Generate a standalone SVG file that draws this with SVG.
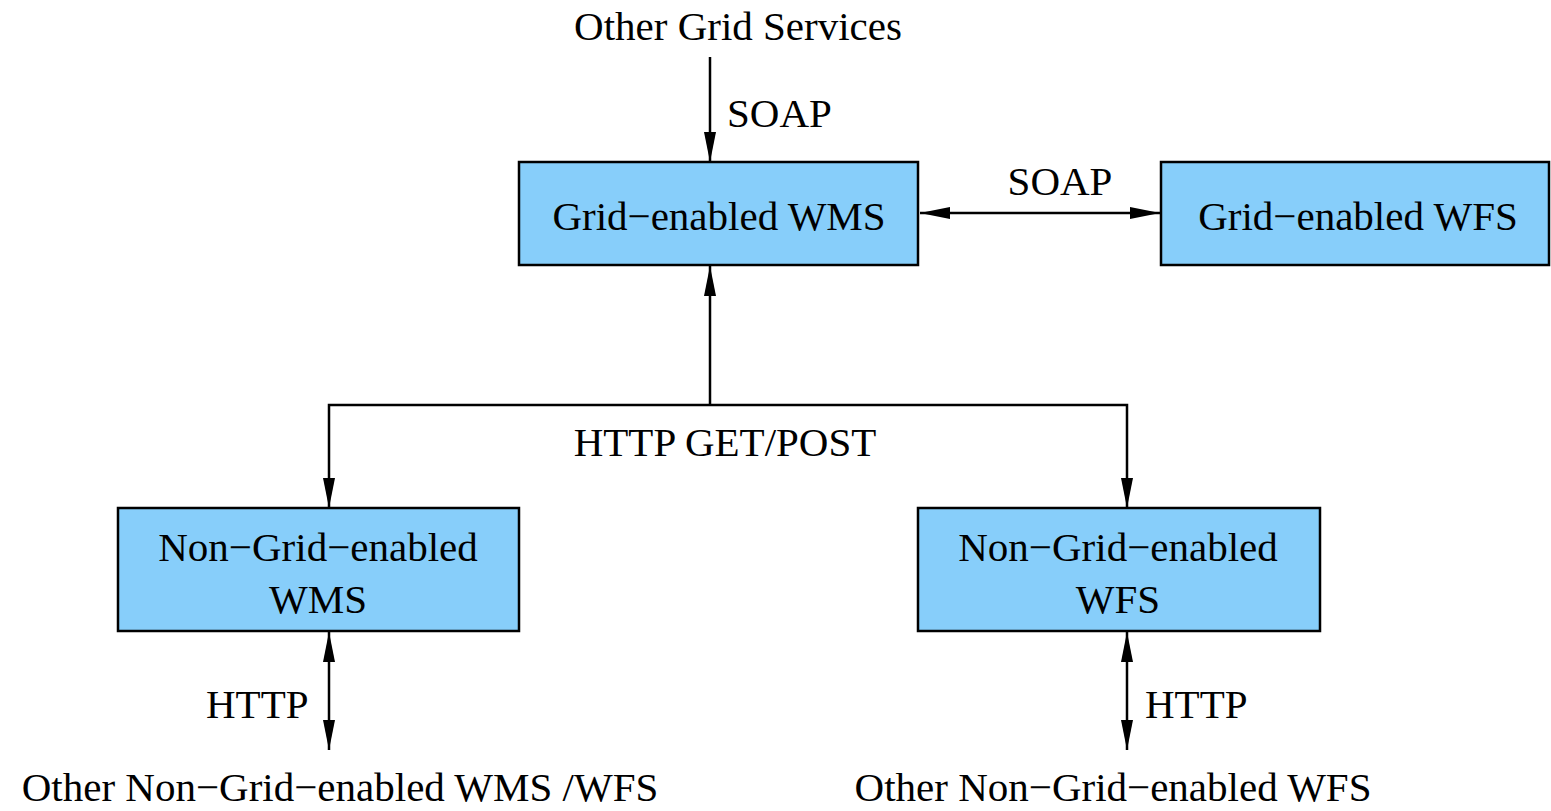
<svg xmlns="http://www.w3.org/2000/svg" width="1551" height="811" viewBox="0 0 1551 811">
<defs>
<style>
.box{fill:#87CEFA;stroke:#000;stroke-width:2.5}
.t{font-family:"Liberation Serif","Times New Roman",serif;font-size:41px;fill:#000}
.m{text-anchor:middle}
.c{stroke:#000;stroke-width:2.5;fill:none}
</style>
<marker id="ah" markerWidth="30" markerHeight="12" refX="30" refY="6" orient="auto-start-reverse" markerUnits="userSpaceOnUse">
<path d="M0,0 L30,6 L0,12 Z" fill="#000"/>
</marker>
</defs>
<rect width="1551" height="811" fill="#fff"/>
<g id="connectors">
<line class="c" x1="710" y1="57" x2="710" y2="162" marker-end="url(#ah)"/>
<line class="c" x1="920" y1="213" x2="1160" y2="213" marker-start="url(#ah)" marker-end="url(#ah)"/>
<line class="c" x1="710" y1="405" x2="710" y2="266" marker-end="url(#ah)"/>
<polyline class="c" points="329,508 329,405 1127,405 1127,508" marker-start="url(#ah)" marker-end="url(#ah)"/>
<line class="c" x1="329" y1="632" x2="329" y2="750" marker-start="url(#ah)" marker-end="url(#ah)"/>
<line class="c" x1="1127" y1="632" x2="1127" y2="750" marker-start="url(#ah)" marker-end="url(#ah)"/>
<text class="t" x="727" y="127">SOAP</text>
<text class="t m" x="1060" y="195">SOAP</text>
<text class="t m" x="725" y="456">HTTP GET/POST</text>
<text class="t" x="206" y="718">HTTP</text>
<text class="t" x="1145" y="718">HTTP</text>
</g>
<g id="other-grid-services"><text class="t m" x="738" y="40">Other Grid Services</text></g>
<g id="grid-wms"><rect class="box" x="519" y="162" width="399" height="103"/><text class="t m" x="719" y="230">Grid−enabled WMS</text></g>
<g id="grid-wfs"><rect class="box" x="1161" y="162" width="388" height="103"/><text class="t m" x="1358" y="230">Grid−enabled WFS</text></g>
<g id="nongrid-wms"><rect class="box" x="118" y="508" width="401" height="123"/><text class="t m" x="318" y="561">Non−Grid−enabled</text><text class="t m" x="318" y="613">WMS</text></g>
<g id="nongrid-wfs"><rect class="box" x="918" y="508" width="402" height="123"/><text class="t m" x="1118" y="561">Non−Grid−enabled</text><text class="t m" x="1118" y="613">WFS</text></g>
<g id="other-nongrid-wms-wfs"><text class="t m" x="340" y="801">Other Non−Grid−enabled WMS /WFS</text></g>
<g id="other-nongrid-wfs"><text class="t m" x="1113" y="801">Other Non−Grid−enabled WFS</text></g>
</svg>
